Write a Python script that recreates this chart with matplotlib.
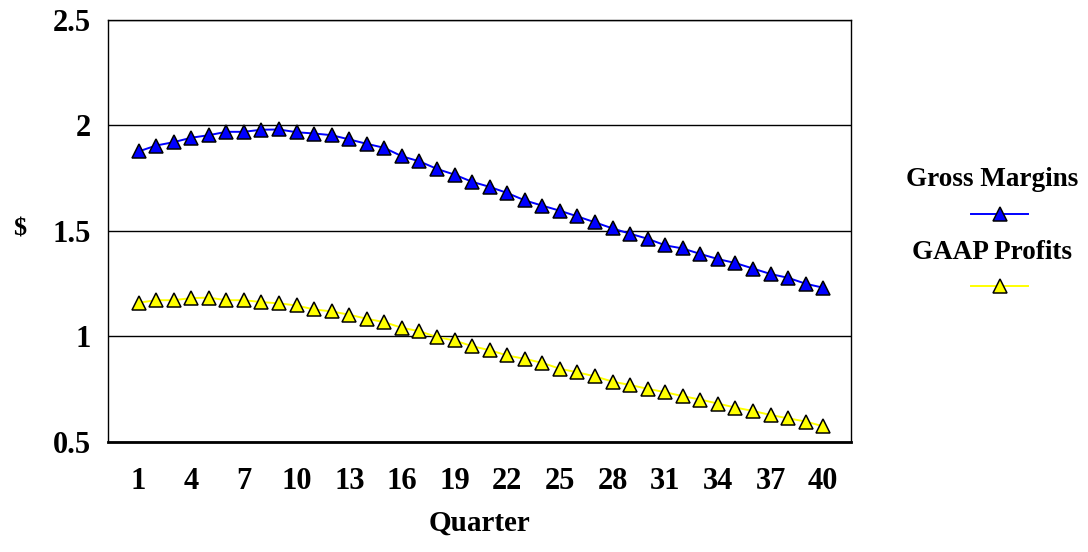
import matplotlib

matplotlib.use("Agg")
import matplotlib.pyplot as plt
from matplotlib.lines import Line2D

plt.rcParams["font.family"] = ["Liberation Serif", "DejaVu Serif"]
plt.rcParams["font.weight"] = "bold"

quarters = list(range(1, 41))
gross_margins = [
    1.877, 1.905, 1.921, 1.942, 1.954, 1.970, 1.970, 1.980, 1.981, 1.968,
    1.962, 1.954, 1.934, 1.913, 1.894, 1.854, 1.830, 1.794, 1.767, 1.733,
    1.709, 1.680, 1.645, 1.620, 1.596, 1.569, 1.541, 1.512, 1.487, 1.463,
    1.432, 1.417, 1.391, 1.367, 1.348, 1.322, 1.296, 1.278, 1.250, 1.231,
]
gaap_profits = [
    1.160, 1.172, 1.172, 1.182, 1.184, 1.172, 1.172, 1.163, 1.157, 1.147,
    1.128, 1.119, 1.103, 1.084, 1.068, 1.041, 1.025, 0.997, 0.981, 0.954,
    0.935, 0.910, 0.894, 0.875, 0.847, 0.830, 0.811, 0.786, 0.770, 0.752,
    0.736, 0.717, 0.701, 0.682, 0.663, 0.647, 0.628, 0.612, 0.597, 0.574,
]
x_ticks = list(range(1, 41, 3))
y_ticks = [0.5, 1, 1.5, 2, 2.5]

fig = plt.figure(figsize=(10.88, 5.52), dpi=100)
ax = fig.add_axes([0.0993, 0.1993, 0.6827, 0.7645])

ax.plot(quarters, gross_margins, color="#0000ff", lw=1.4, marker="^", ms=10,
        mfc="#0000ff", mec="black", mew=1.1, zorder=3)
ax.plot(quarters, gaap_profits, color="#ffff00", lw=1.4, marker="^", ms=10,
        mfc="#ffff00", mec="black", mew=1.1, zorder=3)

ax.set_xlim(-0.74, 41.57)
ax.set_ylim(0.5, 2.5)
ax.set_xticks(x_ticks)
ax.set_yticks(y_ticks)
ax.set_yticklabels(["0.5", "1", "1.5", "2", "2.5"])
ax.yaxis.grid(True, color="black", lw=1.0)
ax.set_axisbelow(True)
ax.tick_params(length=0, labelsize=22, pad=12)
ax.tick_params(axis="x", pad=18)
for lab in ax.get_xticklabels() + ax.get_yticklabels():
    lab.set_fontweight("bold")
for side in ["top", "right", "left"]:
    ax.spines[side].set_linewidth(1.0)
ax.spines["bottom"].set_linewidth(2.0)

ax.set_xlabel("Quarter", fontsize=21, fontweight="bold", labelpad=10)
fig.text(20 / 1088, 1 - 229 / 552, "$", fontsize=19, fontweight="bold",
         ha="center", va="center")

# legend: label text above each line sample
legend_items = [("Gross Margins", "#0000ff", 180, 214), ("GAAP Profits", "#ffff00", 253, 286)]
for label, color, ty, ly in legend_items:
    fig.text(992 / 1088, 1 - ty / 552, label, fontsize=19.5, fontweight="bold",
             ha="center", va="center")
    fig.add_artist(Line2D([971 / 1088, 1028 / 1088], [1 - ly / 552, 1 - ly / 552],
                          transform=fig.transFigure, color=color, lw=1.4))
    fig.add_artist(Line2D([999.5 / 1088], [1 - ly / 552], transform=fig.transFigure,
                          marker="^", ms=10, mfc=color, mec="black", mew=1.1, ls="none"))

fig.savefig("out.png", dpi=100)
